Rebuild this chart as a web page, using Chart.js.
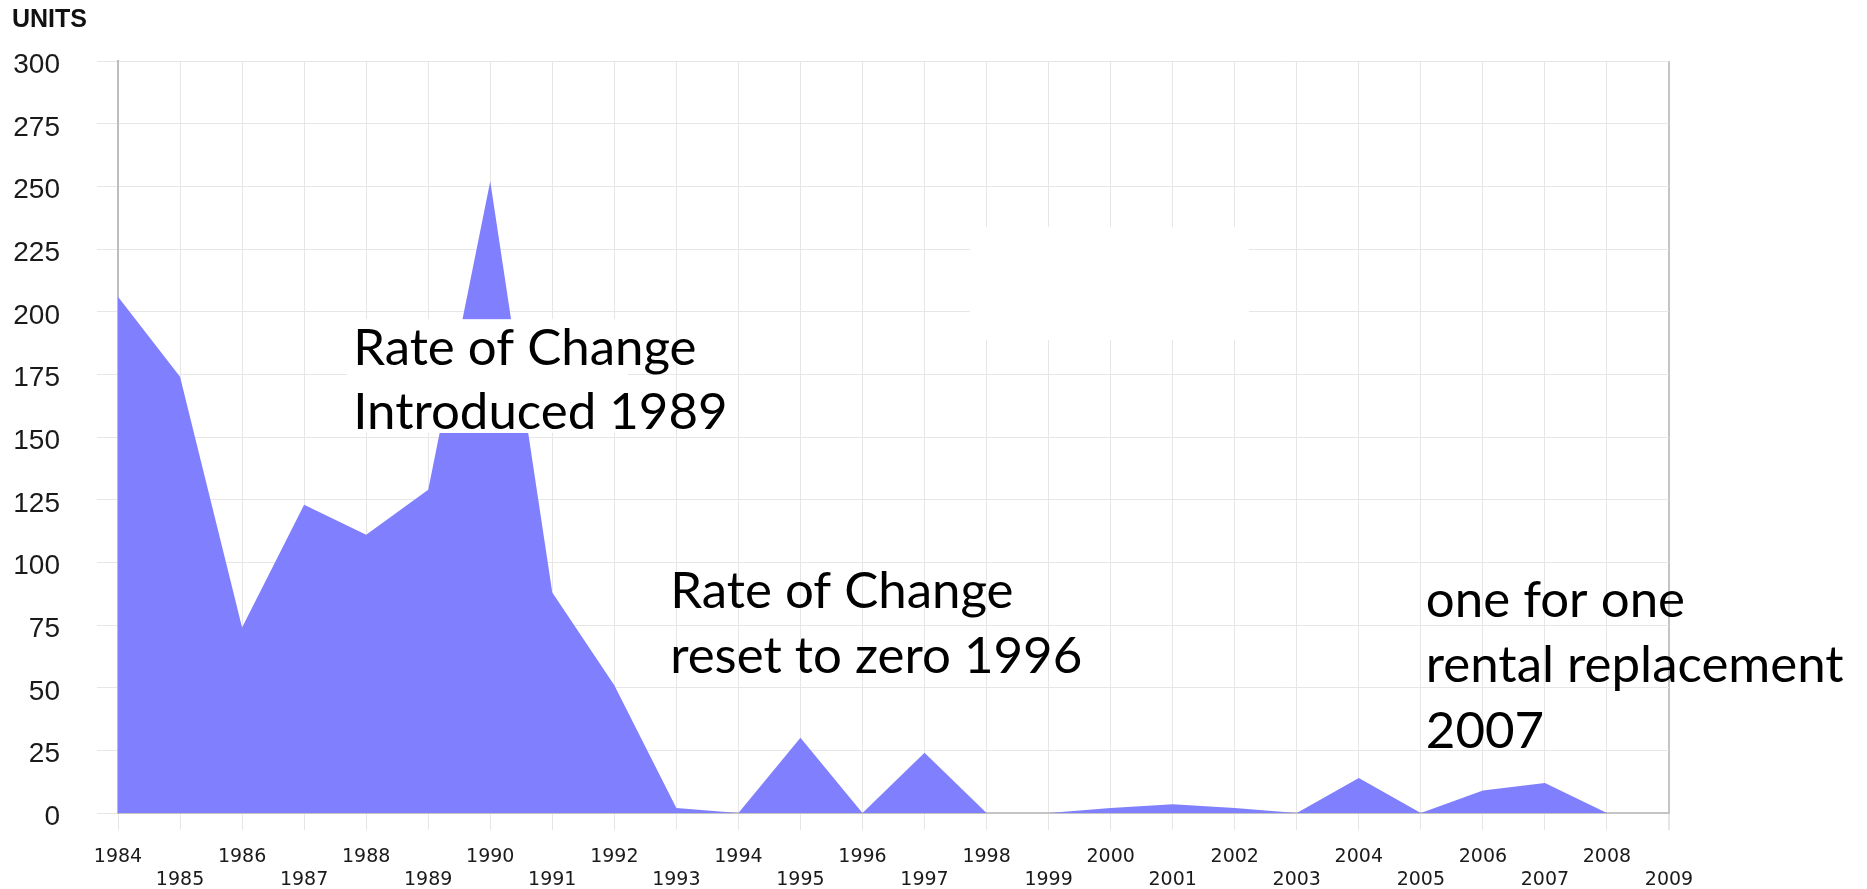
<!DOCTYPE html>
<html>
<head>
<meta charset="utf-8">
<script src="https://cdn.jsdelivr.net/npm/chart.js@4/dist/chart.umd.min.js"></script>
<style>
  html, body { margin: 0; padding: 0; background: #fff; }
  #wrap { width: 1867px; height: 889px; }
</style>
</head>
<body>
<div id="wrap"><canvas id="units-chart" width="1867" height="889"></canvas></div>
<script>
// values, one per year
const years = ['1984', '1985', '1986', '1987', '1988', '1989', '1990', '1991', '1992', '1993',
               '1994', '1995', '1996', '1997', '1998', '1999', '2000', '2001', '2002', '2003',
               '2004', '2005', '2006', '2007', '2008', '2009'];
const units = [206, 174, 74, 123, 111, 129, 252, 88, 51, 2,
               0, 30, 0, 24, 0, 0, 2, 3.5, 2, 0,
               14, 0, 9, 12, 0, 0];
const yMin = 0;
const yMax = 300;
const yStep = 25;
const axisTitle = 'UNITS';
const noteIntroduced = ['Rate of Change', 'Introduced 1989'];
const noteReset = ['Rate of Change', 'reset to zero 1996'];
const noteOneForOne = ['one for one', 'rental replacement', '2007'];

// text boxes laid over the chart (positions in axis units: year index / units)
const notesPlugin = {
    id: 'notes',
    afterDatasetsDraw(chart) {
        const ctx = chart.ctx;
        const x = chart.scales.x;
        const y = chart.scales.y;
        const box = (i0, v0, i1, v1) => {
            const l = x.getPixelForValue(i0), r = x.getPixelForValue(i1);
            const t = y.getPixelForValue(v0), b = y.getPixelForValue(v1);
            ctx.fillRect(l, t, r - l, b - t);
        };
        const lines = (arr, i, v0, dv) => {
            arr.forEach((s, k) => {
                ctx.fillText(s, x.getPixelForValue(i), y.getPixelForValue(v0 - k * dv));
            });
        };
        ctx.save();
        ctx.fillStyle = '#ffffff';
        box(3.69, 197, 8.22, 151.6);
        box(13.73, 233.7, 18.23, 188.7);
        ctx.fillStyle = '#000000';
        ctx.font = '51px Lato';
        ctx.textAlign = 'left';
        ctx.textBaseline = 'alphabetic';
        lines(noteIntroduced, 3.79, 178.7, 25.6);
        lines(noteReset, 8.9, 81.8, 26.0);
        lines(noteOneForOne, 21.08, 78.2, 26.1);
        ctx.restore();
    },
    afterDraw(chart) {
        const ctx = chart.ctx;
        ctx.save();
        ctx.fillStyle = '#111111';
        ctx.font = 'bold 25px "Liberation Sans"';
        ctx.textBaseline = 'alphabetic';
        ctx.fillText(axisTitle, 12, 27);
        ctx.restore();
    }
};

document.addEventListener('DOMContentLoaded', function() {
    const ctx = document.getElementById('units-chart');
    new Chart(ctx, {
        type: 'line',
        data: {
            labels: years,
            datasets: [{
                label: axisTitle,
                data: units,
                fill: 'origin',
                backgroundColor: 'rgb(128,128,255)',
                borderWidth: 0,
                borderColor: 'rgba(0,0,0,0)',
                pointRadius: 0,
                tension: 0
            }]
        },
        options: {
            responsive: false,
            animation: false,
            events: [],
            layout: {
                padding: { top: 61, right: 198, left: 0, bottom: 0 }
            },
            plugins: {
                legend: { display: false },
                tooltip: { enabled: false },
                title: { display: false }
            },
            scales: {
                x: {
                    type: 'category',
                    offset: false,
                    afterFit: function(scale) { scale.height = 76; },
                    grid: {
                        color: c => c.index === years.length - 1 ? '#c4c4c4' : '#e6e6e6',
                        tickColor: '#e6e6e6',
                        tickLength: 17,
                        lineWidth: c => c.index === years.length - 1 ? 2 : 1
                    },
                    border: { color: '#c4c4c4', width: 2 },
                    ticks: {
                        autoSkip: false,
                        maxRotation: 0,
                        minRotation: 0,
                        padding: 16,
                        color: '#1a1a1a',
                        font: { family: '"DejaVu Sans"', size: 19, lineHeight: 1.2 },
                        callback: function(value, index) {
                            const s = years[index];
                            return index % 2 === 0 ? [s, ''] : ['', s];
                        }
                    }
                },
                y: {
                    min: yMin,
                    max: yMax,
                    afterFit: function(scale) { scale.width = 118; },
                    grid: {
                        color: '#e6e6e6',
                        tickColor: '#e6e6e6',
                        tickLength: 21
                    },
                    border: { color: '#bdbdbd', width: 2 },
                    ticks: {
                        stepSize: yStep,
                        padding: 37,
                        color: '#1a1a1a',
                        font: { family: '"Liberation Sans Narrow", "Liberation Sans"', size: 28, lineHeight: 0.3 },
                        // empty first line nudges each label a few pixels below its gridline
                        callback: function(value) { return ['', String(value)]; }
                    }
                }
            }
        },
        plugins: [notesPlugin]
    });
});
</script>
</body>
</html>
